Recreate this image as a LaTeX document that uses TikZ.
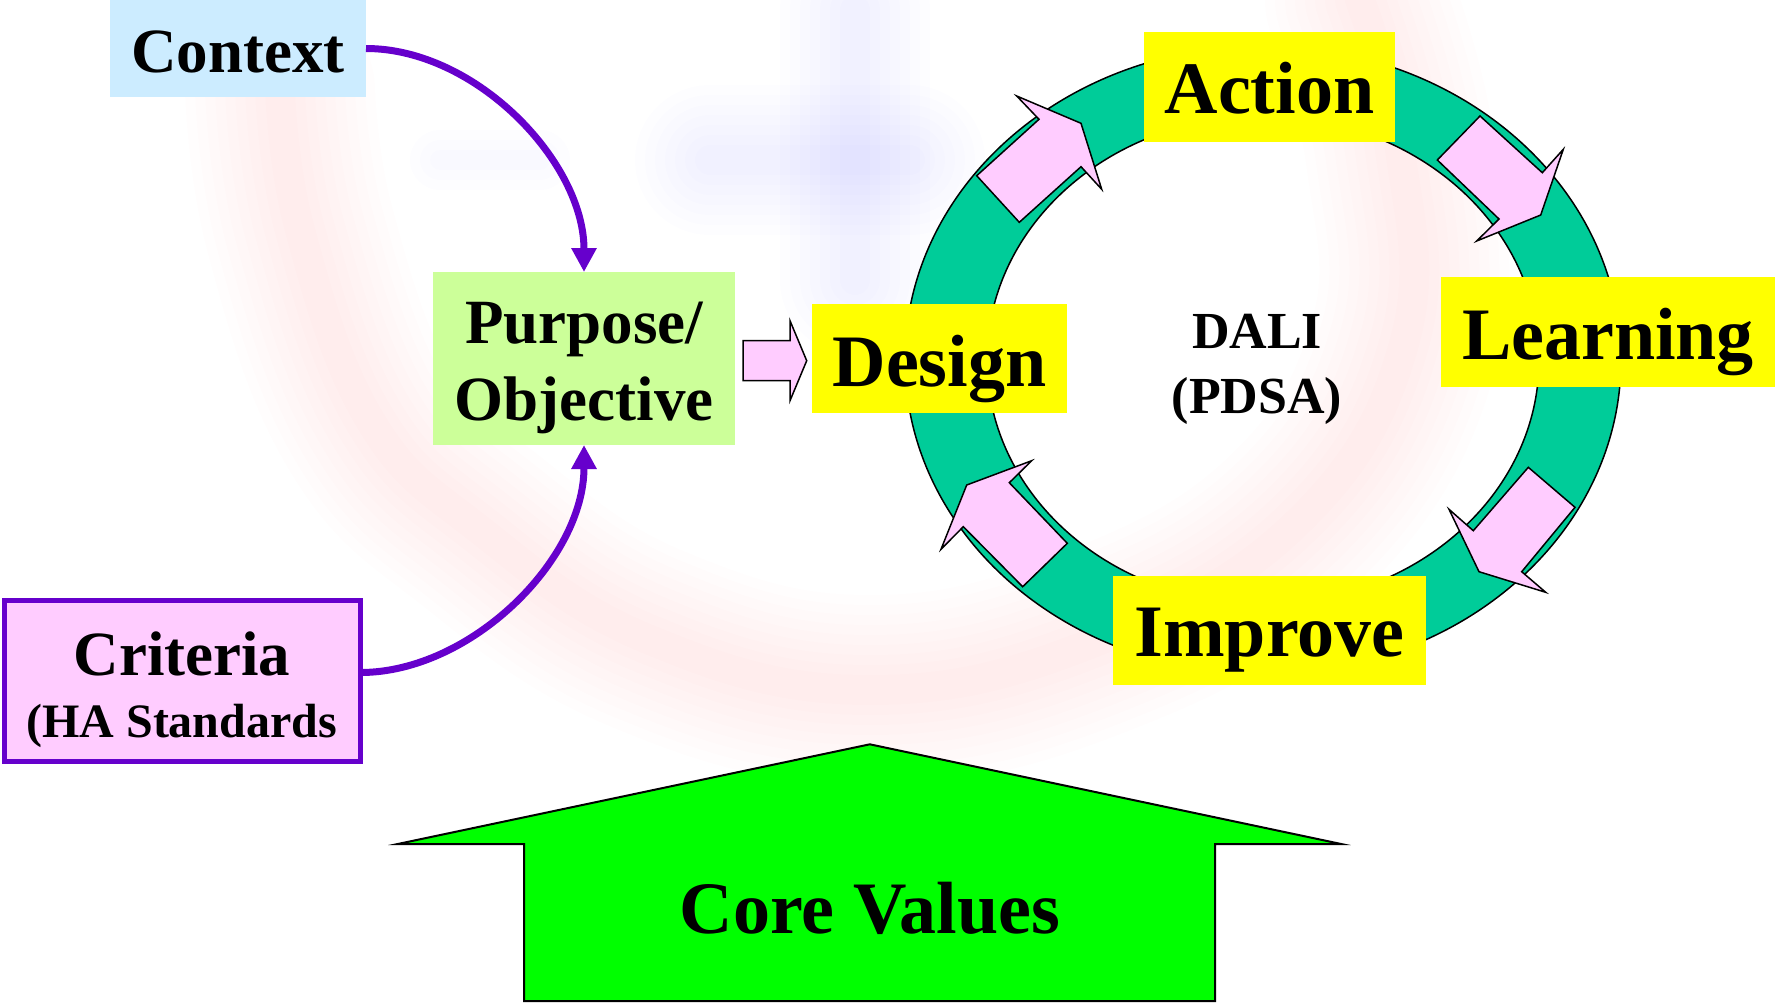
\documentclass[tikz,border=0pt]{standalone}
\usepackage{fontspec}
\setmainfont{Liberation Serif}
\usetikzlibrary{arrows.meta}
\definecolor{ctxblue}{HTML}{CCECFF}
\definecolor{purgreen}{HTML}{CCFF99}
\definecolor{pinkf}{HTML}{FFCCFF}
\definecolor{purp}{HTML}{6600CC}
\definecolor{ringg}{HTML}{00CC99}
\definecolor{coreg}{HTML}{00FF00}
\definecolor{ylw}{HTML}{FFFF00}
\definecolor{wmred}{HTML}{FF3040}
\definecolor{wmblue}{HTML}{4040FF}
\newcommand{\fsz}[2]{\fontsize{#1pt}{#2pt}\selectfont\bfseries}
\begin{document}
\begin{tikzpicture}[x=1pt,y=-1pt,
  box/.style={rectangle, inner sep=0pt, outer sep=0pt},
  lbl/.style={anchor=base, inner sep=0pt, outer sep=0pt},
  purparrow/.style={draw=purp, line width=7pt, -{Triangle[length=24pt,width=24pt]}},
  blockarrow/.style={draw=black, fill=pinkf, line width=1.5pt, line join=miter},
  ringline/.style={draw=black, line width=1.5pt},
  wmpink/.style={wmred, opacity=0.009, line cap=round, line join=round},
  wmlav/.style={wmblue, opacity=0.007, line cap=round, line join=round}]
\useasboundingbox (0,0) rectangle (1775,1002);
\fill[white] (0,0) rectangle (1775,1002);
% faint blurred watermark
\foreach \w in {30,50,...,190} {
  \draw[wmpink, line width=\w pt] plot[smooth, tension=0.7] coordinates {(280,90) (300,230) (370,420) (480,530) (650,640) (870,690) (1100,640) (1300,520) (1405,340) (1400,150) (1360,0)};
}
\foreach \w in {30,50,...,150} {
  \draw[wmlav, line width=\w pt] (710,160) -- (910,160);
  \draw[wmlav, line width=\w pt] (855,10) -- (855,280);
}
\foreach \w in {20,40,60} {
  \draw[wmlav, line width=\w pt] (440,160) -- (540,160);
}
% boxes on the left
\node[box, fill=ctxblue, minimum width=256pt, minimum height=97pt] (ctx) at (238,48.5) {};
\node[lbl, font=\fsz{63}{76}] (ctxt) at (238,72) {Context};
\node[box, fill=purgreen, minimum width=302pt, minimum height=173pt] (pur) at (584,358.5) {};
\node[lbl, font=\fsz{63}{76}] (purt1) at (584,343) {Purpose/};
\node[lbl, font=\fsz{63}{76}] (purt2) at (584,420) {Objective};
\node[box, fill=pinkf, draw=purp, line width=5pt, minimum width=356.5pt, minimum height=161pt] (crit) at (182.25,680.5) {};
\node[lbl, font=\fsz{63}{76}] (critt1) at (182,675.4) {Criteria};
\node[lbl, font=\fsz{48}{58}] (critt2) at (181.7,737) {(HA Standards};
% connectors
\draw[purparrow] (ctx.east) .. controls +(110,0) and +(0,-110) .. (pur.north);
\draw[purparrow] ([yshift=8pt]crit.east) .. controls +(110,0) and +(0,115) .. (pur.south);
% ring
\coordinate (rc) at (1263,360);
\fill[ringg, even odd rule] (rc) ellipse[x radius=358pt, y radius=314pt] (rc) ellipse[x radius=276pt, y radius=244pt];
\draw[ringline] (rc) ellipse[x radius=358pt, y radius=314pt];
\draw[ringline] (rc) ellipse[x radius=276pt, y radius=244pt];
% block arrows on the ring
\draw[blockarrow] (976.7,175.7) -- (1039,119.3) -- (1016.7,96) -- (1081,123.3) -- (1101.7,189.3) -- (1081,166.7) -- (1019.3,222.3) -- cycle;
\draw[blockarrow] (1437.3,160) -- (1480,116) -- (1542.3,172.7) -- (1563.3,149.3) -- (1540.7,215) -- (1476.7,241) -- (1499,219) -- cycle;
\draw[blockarrow] (1528.3,467.3) -- (1575,507.3) -- (1521.7,571.7) -- (1545.7,592.3) -- (1479,571.7) -- (1449,509.3) -- (1473.3,530.7) -- cycle;
\draw[blockarrow] (1067.3,543.3) -- (1022.7,586.7) -- (963.3,526.7) -- (941,549.3) -- (966.7,485) -- (1031.7,460.7) -- (1009.3,482.7) -- cycle;
% arrow from Purpose to Design
\draw[blockarrow] (743,340.7) -- (790,340.7) -- (790,320.7) -- (806.7,360.7) -- (790,400.7) -- (790,380.7) -- (743,380.7) -- cycle;
% yellow boxes
\node[box, fill=ylw, minimum width=255pt, minimum height=109pt] (des) at (939.5,358.5) {};
\node[lbl, font=\fsz{74}{88}] (dest) at (939.5,386) {Design};
\node[box, fill=ylw, minimum width=251pt, minimum height=110pt] (act) at (1269.5,87) {};
\node[lbl, font=\fsz{74}{88}] (actt) at (1269.5,113.3) {Action};
\node[box, fill=ylw, minimum width=334pt, minimum height=110pt] (lrn) at (1608,331.5) {};
\node[lbl, font=\fsz{74}{88}] (lrnt) at (1608,359.3) {Learning};
\node[box, fill=ylw, minimum width=313pt, minimum height=109pt] (imp) at (1269.5,630.5) {};
\node[lbl, font=\fsz{74}{88}] (impt) at (1269.5,656.7) {Improve};
% centre label
\node[lbl, font=\fsz{52}{64}] (dali1) at (1257,348) {DALI};
\node[lbl, font=\fsz{52}{64}] (dali2) at (1257,413) {(PDSA)};
% core values arrow
\draw[fill=coreg, draw=black, line width=2pt, line join=miter] (869.8,744.3) -- (1341.2,844) -- (1215,844) -- (1215,1001) -- (524,1001) -- (524,844) -- (397.7,844) -- cycle;
\node[lbl, font=\fsz{74}{88}] (core) at (870,933) {Core Values};
\end{tikzpicture}
\end{document}
